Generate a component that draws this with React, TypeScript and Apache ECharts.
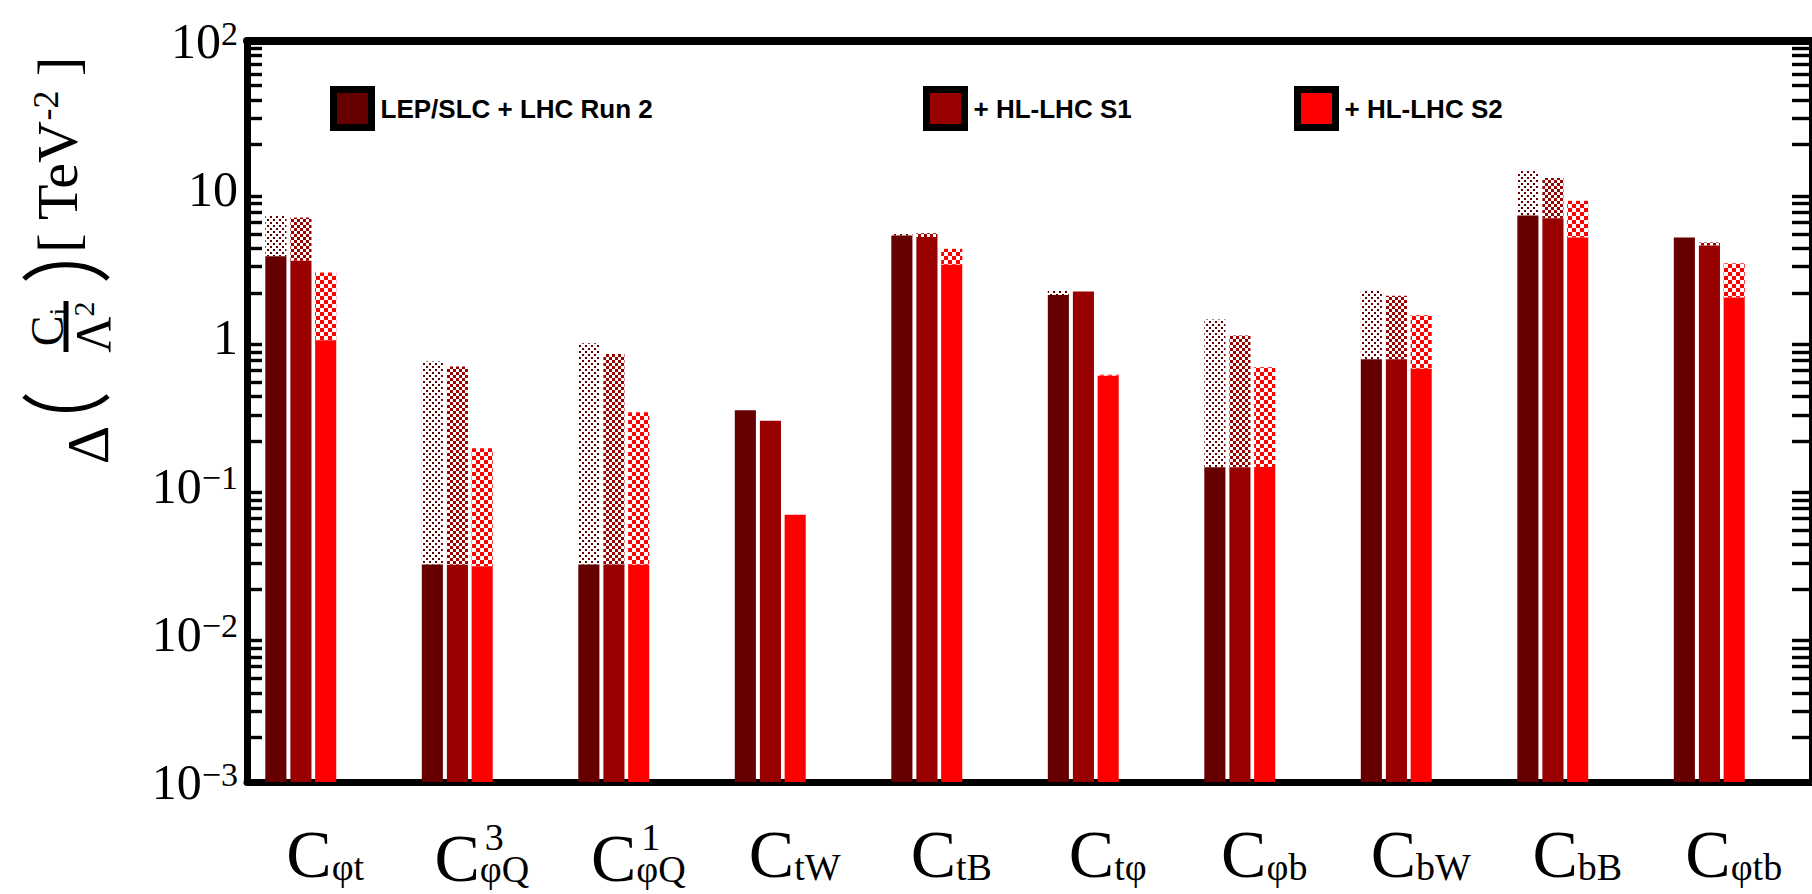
import React, { useEffect, useRef } from 'react';
import * as echarts from 'echarts';

// Wilson coefficients on the x axis: C with a subscript and an optional superscript
const coeffSub = ['φt', 'φQ', 'φQ', 'tW', 'tB', 'tφ', 'φb', 'bW', 'bB', 'φtb'];
const coeffSup = ['', '3', '1', '', '', '', '', '', '', ''];
const categories = coeffSub.map((s, i) => (coeffSup[i] ? `C${coeffSup[i]}_${s}` : `C_${s}`));

const seriesNames = ['LEP/SLC + LHC Run 2', '+ HL-LHC S1', '+ HL-LHC S2'];
const seriesColors = ['#660000', '#990000', '#ff0000'];

// Bounds in TeV^-2: solid part of each bar, and the full (patterned) extent
const run2Solid = [3.53, 0.0294, 0.0294, 0.323, 4.87, 1.93, 0.133, 0.711, 6.65, 4.72];
const run2Full = [6.62, 0.689, 0.912, 0.323, 5.05, 2.07, 1.32, 2.08, 13.3, 4.72];
const s1Solid = [3.29, 0.0292, 0.0293, 0.274, 4.75, 2.04, 0.133, 0.711, 6.38, 4.17];
const s1Full = [6.44, 0.637, 0.773, 0.274, 5.05, 2.04, 1.03, 1.91, 11.9, 4.37];
const s2Solid = [0.955, 0.0286, 0.0292, 0.0637, 3.09, 0.552, 0.1335, 0.615, 4.72, 1.86];
const s2Full = [2.74, 0.179, 0.313, 0.0637, 3.96, 0.56, 0.628, 1.41, 8.35, 3.16];

// Decades shown on the log axis (10^-3 ... 10^2)
const yTickExponents = [-3, -2, -1, 0, 1, 2];

const Y_MIN = Math.pow(10, yTickExponents[0]);
const Y_MAX = Math.pow(10, yTickExponents[yTickExponents.length - 1]);

const SERIF = 'Liberation Serif';
const SANS = 'Liberation Sans';

// Left edge of each bar (fraction of the category band, from band centre) and bar width
const BAR_OFFSET = [-0.383, -0.2228, -0.0646];
const BAR_WIDTH = 0.1348;

function tilePattern(w: number, h: number, color: string, rects: number[][]) {
  const body = rects
    .map(([x, y, rw, rh]) => `<rect x='${x}' y='${y}' width='${rw}' height='${rh}' fill='${color}'/>`)
    .join('');
  const svg = `<svg xmlns='http://www.w3.org/2000/svg' width='${w}' height='${h}' shape-rendering='crispEdges'>${body}</svg>`;
  return {
    image: 'data:image/svg+xml;charset=utf-8,' + encodeURIComponent(svg),
    repeat: 'repeat',
    imageWidth: w,
    imageHeight: h,
  };
}

const PATTERNS = [
  tilePattern(6, 6, seriesColors[0], [[0, 0, 2, 2], [3, 3, 2, 2]]),
  tilePattern(6, 6, seriesColors[1], [[0, 0, 3, 3], [3, 3, 3, 3]]),
  tilePattern(8, 8, seriesColors[2], [[0, 0, 4, 4], [4, 4, 4, 4]]),
];

const seriesData = [
  run2Solid.map((v, i) => [i, v, run2Full[i]]),
  s1Solid.map((v, i) => [i, v, s1Full[i]]),
  s2Solid.map((v, i) => [i, v, s2Full[i]]),
];

function barRenderer(s: number) {
  return (params: any, api: any) => {
    const idx = api.value(0);
    const solid = api.value(1);
    const full = api.value(2);
    const band = api.size([1, 1])[0];
    const cx = api.coord([idx, solid])[0];
    const x = cx + band * BAR_OFFSET[s];
    const w = band * BAR_WIDTH;
    const yBase = api.coord([idx, Y_MIN])[1];
    const ySolid = api.coord([idx, solid])[1];
    const yFull = api.coord([idx, full])[1];
    const children: any[] = [];
    if (yFull < ySolid - 0.5) {
      children.push({
        type: 'rect',
        shape: { x, y: yFull, width: w, height: ySolid - yFull },
        style: { fill: PATTERNS[s] },
      });
    }
    children.push({
      type: 'rect',
      shape: { x, y: ySolid, width: w, height: yBase - ySolid },
      style: { fill: seriesColors[s] },
    });
    return { type: 'group', children };
  };
}

const LEGEND_LEFT = [330, 923, 1294];

// y-axis title: Δ( C_i / Λ² ) [ TeV^-2 ], read bottom to top
const titleGraphics: any[] = [
  {
    type: 'text', x: 88, y: 445, rotation: Math.PI / 2,
    style: { text: 'Δ', fontFamily: SERIF, fontSize: 60, fill: '#000', align: 'center', verticalAlign: 'middle' },
  },
  {
    type: 'bezierCurve',
    shape: { x1: 24, y1: 396, x2: 108, y2: 396, cpx1: 44, cpy1: 414, cpx2: 88, cpy2: 414 },
    style: { stroke: '#000', lineWidth: 5, fill: 'none' },
  },
  {
    type: 'text', x: 47, y: 327, rotation: Math.PI / 2,
    style: {
      text: '{c|C}{s|i}', align: 'center', verticalAlign: 'middle',
      rich: {
        c: { fontFamily: SERIF, fontSize: 46, lineHeight: 46, verticalAlign: 'top', fill: '#000' },
        s: { fontFamily: SERIF, fontSize: 28, lineHeight: 28, padding: [20, 0, 0, 0], verticalAlign: 'top', fill: '#000' },
      },
    },
  },
  { type: 'line', shape: { x1: 66, y1: 301, x2: 66, y2: 352 }, style: { stroke: '#000', lineWidth: 5 } },
  {
    type: 'text', x: 93, y: 327, rotation: Math.PI / 2,
    style: {
      text: '{c|Λ}{s|2}', align: 'center', verticalAlign: 'middle',
      rich: {
        c: { fontFamily: SERIF, fontSize: 50, lineHeight: 50, verticalAlign: 'bottom', fill: '#000' },
        s: { fontFamily: SERIF, fontSize: 30, lineHeight: 26, verticalAlign: 'top', fill: '#000' },
      },
    },
  },
  {
    type: 'bezierCurve',
    shape: { x1: 24, y1: 279, x2: 108, y2: 279, cpx1: 44, cpy1: 260, cpx2: 88, cpy2: 260 },
    style: { stroke: '#000', lineWidth: 5, fill: 'none' },
  },
  {
    type: 'text', x: 57, y: 155, rotation: Math.PI / 2,
    style: {
      text: '{b|[ TeV}{s|-2}{b| ]}', align: 'center', verticalAlign: 'middle',
      rich: {
        b: { fontFamily: SERIF, fontSize: 58, lineHeight: 58, verticalAlign: 'bottom', fill: '#000' },
        s: { fontFamily: SERIF, fontSize: 36, lineHeight: 32, verticalAlign: 'top', fill: '#000' },
      },
    },
  },
];

function buildOption() {
  const xLabelRich = {
    c: { fontFamily: SERIF, fontSize: 68, lineHeight: 68, verticalAlign: 'top', color: '#000' },
    sub: { fontFamily: SERIF, fontSize: 38, lineHeight: 38, padding: [28, 0, 0, 0], verticalAlign: 'top', color: '#000' },
    cs: { fontFamily: SERIF, fontSize: 68, lineHeight: 64, padding: [4, 0, 0, 0], verticalAlign: 'top', color: '#000' },
    subs: { fontFamily: SERIF, fontSize: 38, lineHeight: 38, padding: [30, 0, 0, 0], verticalAlign: 'top', color: '#000' },
  };

  const logAxis = {
    type: 'log', logBase: 10, min: Y_MIN, max: Y_MAX,
    splitLine: { show: false },
  };
  const frameLine = { show: true, lineStyle: { color: '#000', width: 7 } };

  return {
    animation: false,
    backgroundColor: '#fff',
    textStyle: { fontFamily: SERIF },
    grid: { left: 247, top: 41, width: 1580, height: 741 },
    legend: seriesNames.map((name, i) => ({
      data: [name], left: LEGEND_LEFT[i], top: 86, padding: 0,
      itemWidth: 38, itemHeight: 38, itemGap: 0, icon: 'rect', selectedMode: false,
      itemStyle: { borderColor: '#000', borderWidth: 7 },
      textStyle: { fontFamily: SANS, fontWeight: 'bold', fontSize: 26, color: '#000', padding: [0, 0, 0, 4] },
    })),
    xAxis: [
      {
        type: 'category', data: categories, position: 'bottom', boundaryGap: true,
        axisLine: { onZero: false, lineStyle: { color: '#000', width: 7 } },
        axisTick: { inside: true, length: 20, interval: 0, lineStyle: { color: '#000', width: 5 } },
        axisLabel: {
          interval: 0, margin: 38,
          formatter: (_: string, i: number) =>
            coeffSup[i] ? `{cs|C}{subs|${coeffSub[i]}}` : `{c|C}{sub|${coeffSub[i]}}`,
          rich: xLabelRich,
        },
        splitLine: { show: false },
      },
      {
        type: 'category', data: categories, position: 'top', boundaryGap: true,
        axisLine: { onZero: false, lineStyle: { color: '#000', width: 8 } },
        axisTick: { inside: true, length: 22, interval: 0, lineStyle: { color: '#000', width: 5 } },
        axisLabel: { show: false }, splitLine: { show: false },
      },
      {
        // superscripts of the coefficient names
        type: 'category', data: categories, position: 'bottom', boundaryGap: true,
        axisLine: { show: false, onZero: false }, axisTick: { show: false },
        axisLabel: {
          interval: 0, margin: 40, align: 'left', fontFamily: SERIF, fontSize: 38, lineHeight: 30,
          padding: [0, 0, 0, 3], color: '#000',
          formatter: (_: string, i: number) => coeffSup[i],
        },
        splitLine: { show: false },
      },
    ],
    yAxis: [
      {
        ...logAxis, position: 'left', axisLine: frameLine,
        axisTick: { inside: true, length: 44, lineStyle: { color: '#000', width: 5 } },
        minorTick: { show: true, splitNumber: 9, length: 15, lineStyle: { color: '#000', width: 3.4 } },
        axisLabel: {
          margin: 9, showMinLabel: true, showMaxLabel: true,
          formatter: (v: number) => {
            const e = Math.round(Math.log10(v));
            if (e === 0) return '{b|1}';
            if (e === 1) return '{b|10}';
            return `{b|10}{s|${e < 0 ? '−' : ''}${Math.abs(e)}}`;
          },
          rich: {
            b: { fontFamily: SERIF, fontSize: 50, lineHeight: 50, verticalAlign: 'bottom', color: '#000' },
            s: { fontFamily: SERIF, fontSize: 34, lineHeight: 28, verticalAlign: 'top', color: '#000' },
          },
        },
      },
      {
        ...logAxis, position: 'right', axisLine: frameLine,
        axisTick: { inside: true, length: 42, lineStyle: { color: '#000', width: 5 } },
        minorTick: { show: true, splitNumber: 9, length: 20, lineStyle: { color: '#000', width: 3.4 } },
        axisLabel: { show: false },
      },
    ],
    series: seriesNames.map((name, s) => ({
      type: 'custom', name, xAxisIndex: 0, yAxisIndex: 0, z: 3,
      itemStyle: { color: seriesColors[s] },
      renderItem: barRenderer(s),
      encode: { x: 0, y: [1, 2] },
      data: seriesData[s],
    })),
    graphic: titleGraphics,
  };
}

export default function App() {
  const ref = useRef<HTMLDivElement>(null);
  useEffect(() => {
    if (!ref.current) return;
    const chart = echarts.init(ref.current, null, { renderer: 'svg' });
    chart.setOption(buildOption() as any);
    return () => chart.dispose();
  }, []);
  return (
    <div ref={ref} style={{ position: 'absolute', left: 0, top: 0, width: 1812, height: 894, background: '#fff' }} />
  );
}
